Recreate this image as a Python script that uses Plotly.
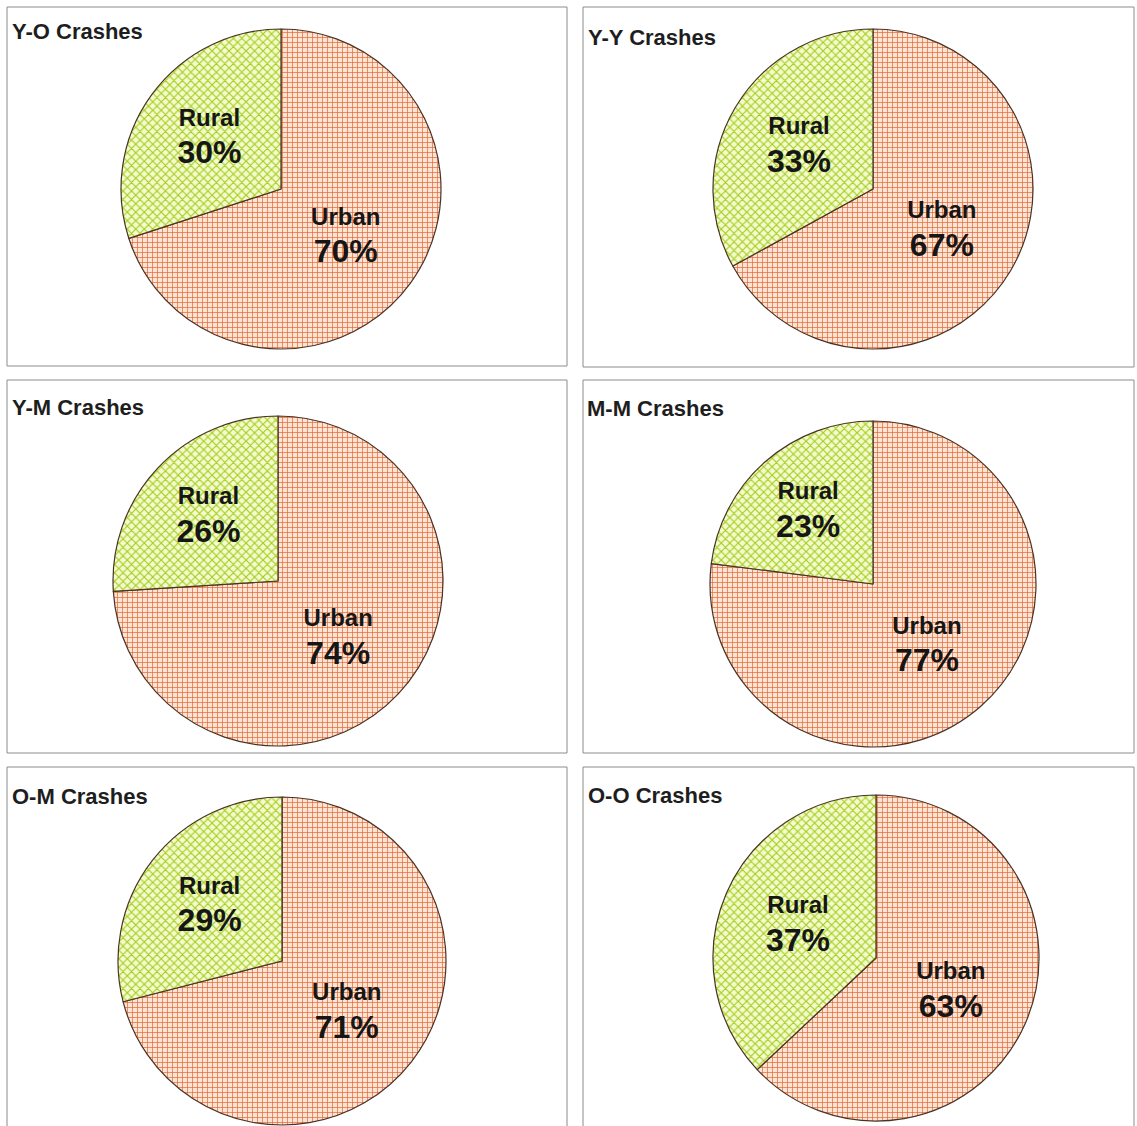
import plotly.graph_objects as go

# Crash location split by driver-age pairing
panel_titles = ["Y-O Crashes", "Y-Y Crashes", "Y-M Crashes",
                "M-M Crashes", "O-M Crashes", "O-O Crashes"]
area_labels = ["Urban", "Rural"]
urban_share = [70, 67, 74, 77, 71, 63]
rural_share = [30, 33, 26, 23, 29, 37]

W, H = 1137, 1126

# panel boxes (x0, y0, x1, y1) in pixels, and pie centre / radius in pixels
panel_boxes = [
    (7, 7, 567, 366), (583, 7, 1134, 367),
    (7, 380, 567, 753), (583, 380, 1134, 753),
    (7, 767, 567, 1140), (583, 767, 1134, 1140),
]
pie_geom = [
    (281, 189, 160), (873, 189, 160),
    (278, 581, 165), (873, 584, 163),
    (282, 961, 164), (876, 958, 163),
]
title_pos = [(10, 32), (586, 37), (10, 407), (585, 408), (10, 796), (586, 795)]

URBAN_BG, URBAN_FG = "#fde4d4", "#e26a3a"
RURAL_BG, RURAL_FG = "#f3fbcf", "#a4cc18"
FONT = "Liberation Sans, Arial, sans-serif"

fig = go.Figure()

for i, title in enumerate(panel_titles):
    cx, cy, r = pie_geom[i]
    fig.add_trace(go.Pie(
        labels=area_labels,
        values=[urban_share[i], rural_share[i]],
        sort=False,
        direction="clockwise",
        rotation=0,
        domain=dict(x=[(cx - r) / W, (cx + r) / W],
                    y=[max(0, 1 - (cy + r) / H), 1 - (cy - r) / H]),
        marker=dict(
            colors=[URBAN_BG, RURAL_BG],
            line=dict(color="#4a3326", width=1.2),
            pattern=dict(
                shape=["+", "x"],
                fgcolor=[URBAN_FG, RURAL_FG],
                bgcolor=[URBAN_BG, RURAL_BG],
                size=[5, 6],
                solidity=[0.27, 0.34],
            ),
        ),
        texttemplate=("<b><span style='font-size:24px'>%{label}</span><br>"
                      "<span style='font-size:32px'>%{value}%</span></b>"),
        textposition="inside",
        insidetextorientation="horizontal",
        insidetextfont=dict(family=FONT, size=29, color="#161616"),
        hoverinfo="label+percent",
        showlegend=False,
    ))

shapes = []
for (x0, y0, x1, y1) in panel_boxes:
    shapes.append(dict(type="rect", xref="paper", yref="paper",
                       x0=x0 / W, x1=x1 / W, y0=1 - y1 / H, y1=1 - y0 / H,
                       line=dict(color="#8c8c8c", width=1),
                       fillcolor="rgba(0,0,0,0)", layer="below"))

annotations = []
for title, (tx, ty) in zip(panel_titles, title_pos):
    annotations.append(dict(text="<b>" + title + "</b>", xref="paper", yref="paper",
                            x=tx / W, y=1 - ty / H, xanchor="left", yanchor="middle",
                            showarrow=False,
                            font=dict(family=FONT, size=22, color="#1e1e1e")))

fig.update_layout(
    width=W, height=H,
    margin=dict(l=0, r=0, t=0, b=0),
    paper_bgcolor="white",
    plot_bgcolor="white",
    shapes=shapes,
    annotations=annotations,
)

fig.write_html("out.html")
